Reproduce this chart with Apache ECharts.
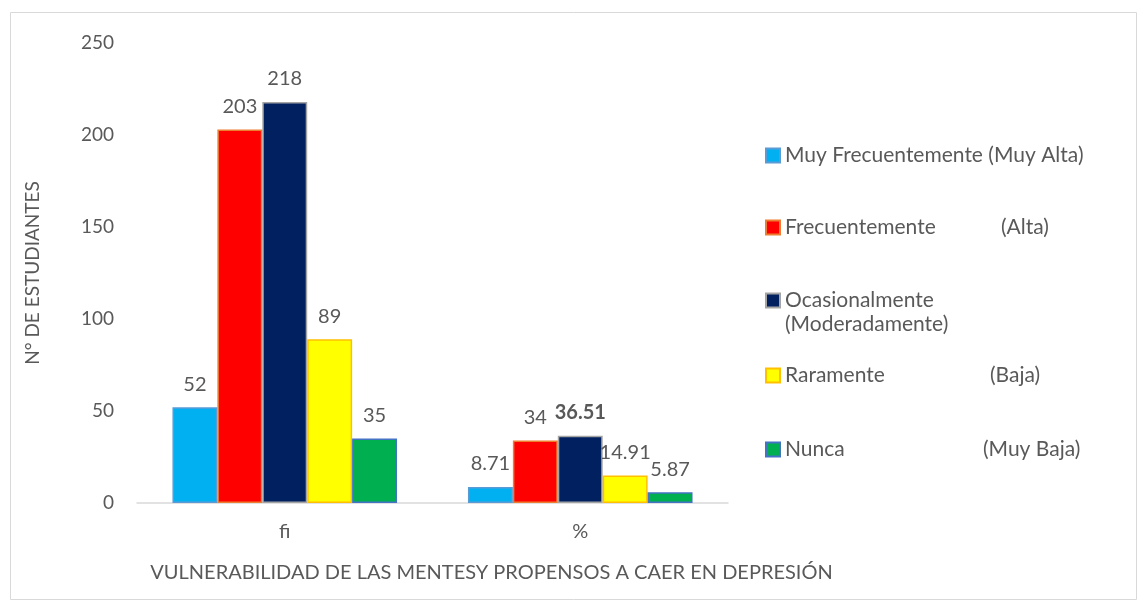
<!DOCTYPE html>
<html lang="es">
<head>
	<meta charset="UTF-8">
	<title>Vulnerabilidad</title>
	<script src="https://cdn.jsdelivr.net/npm/echarts@6/dist/echarts.min.js"></script>
	<style>
		html,body{margin:0;padding:0;background:#fff;}
		#chart{width:1147px;height:611px;}
	</style>
</head>
<body>
<div id="chart"></div>
<script>
	// datos
	var categorias = ['fi', '%'];
	var muyAlta = [52, 8.71];
	var alta = [203, 34];
	var moderada = [218, 36.51];
	var baja = [89, 14.91];
	var nunca = [35, 5.87];
	var yTicks = [0, 50, 100, 150, 200, 250];

	var gris = '#595959';
	var fuente = 'Lato';

	function serie(nombre, datos, color, borde){
		return {
			name: nombre,
			type: 'bar',
			barGap: '0%',
			barCategoryGap: '24%',
			data: datos,
			itemStyle: {color: color, borderColor: borde, borderWidth: 1.5},
			label: {
				show: true,
				position: 'top',
				distance: 13,
				color: gris,
				fontFamily: fuente,
				fontSize: 20
			}
		};
	}

	var sModerada = serie('Ocasionalmente', moderada, '#002060', '#A5A5A5');
	// el valor 36.51 va en negrita
	sModerada.data = moderada.map(function(v, i){
		return i == 1 ? {value: v, label: {fontWeight: 'bold'}} : v;
	});

	function leyenda(nombre, top, ancho, sufijo){
		return {
			data: [nombre],
			left: 760,
			top: top,
			orient: 'vertical',
			icon: 'rect',
			itemWidth: 14,
			itemHeight: 14,
			itemGap: 5,
			formatter: function(n){
				return sufijo ? '{a|' + n + '}{b|' + sufijo + '}' : n;
			},
			textStyle: {
				color: gris,
				fontFamily: fuente,
				fontSize: 21,
				rich: {
					a: {width: ancho, color: gris, fontFamily: fuente, fontSize: 21},
					b: {color: gris, fontFamily: fuente, fontSize: 21}
				}
			}
		};
	}

	var myChart = echarts.init(document.getElementById('chart'));
	var option = {
		backgroundColor: '#fff',
		animation: false,
		grid: {left: 137, right: 419, top: 43, bottom: 108},
		legend: [
			leyenda('Muy Frecuentemente (Muy Alta)', 140, 0, ''),
			leyenda('Frecuentemente', 212, 216, '(Alta)'),
			leyenda('Ocasionalmente', 285, 0, ''),
			leyenda('Raramente', 360, 205, '(Baja)'),
			leyenda('Nunca', 434, 198, '(Muy Baja)')
		],
		graphic: [
			{
				type: 'rect',
				shape: {x: 10.5, y: 12.5, width: 1126, height: 587},
				style: {fill: 'none', stroke: '#D9D9D9', lineWidth: 1},
				silent: true
			},
			{
				type: 'text',
				left: 785,
				top: 314,
				style: {text: '(Moderadamente)', fill: gris, font: '21px Lato'}
			}
		],
		xAxis: {
			type: 'category',
			data: categorias,
			name: 'VULNERABILIDAD DE LAS MENTESY PROPENSOS A CAER EN DEPRESIÓN',
			nameLocation: 'middle',
			nameGap: 60,
			nameTextStyle: {color: gris, fontFamily: fuente, fontSize: 20, padding: [0, 0, 0, 118]},
			axisLine: {lineStyle: {color: '#D9D9D9', width: 1.5}},
			axisTick: {show: false},
			axisLabel: {color: gris, fontFamily: fuente, fontSize: 20, margin: 19}
		},
		yAxis: {
			type: 'value',
			min: yTicks[0],
			max: yTicks[yTicks.length - 1],
			interval: yTicks[1] - yTicks[0],
			name: 'N° DE ESTUDIANTES',
			nameLocation: 'middle',
			nameGap: 95,
			nameTextStyle: {color: gris, fontFamily: fuente, fontSize: 19},
			axisLine: {show: false},
			axisTick: {show: false},
			splitLine: {show: false},
			axisLabel: {color: gris, fontFamily: fuente, fontSize: 19, margin: 23}
		},
		series: [
			serie('Muy Frecuentemente (Muy Alta)', muyAlta, '#00B0F0', '#5B9BD5'),
			serie('Frecuentemente', alta, '#FF0000', '#ED7D31'),
			sModerada,
			serie('Raramente', baja, '#FFFF00', '#FFC000'),
			serie('Nunca', nunca, '#00B050', '#4472C4')
		]
	};
	myChart.setOption(option);
</script>
</body>
</html>
